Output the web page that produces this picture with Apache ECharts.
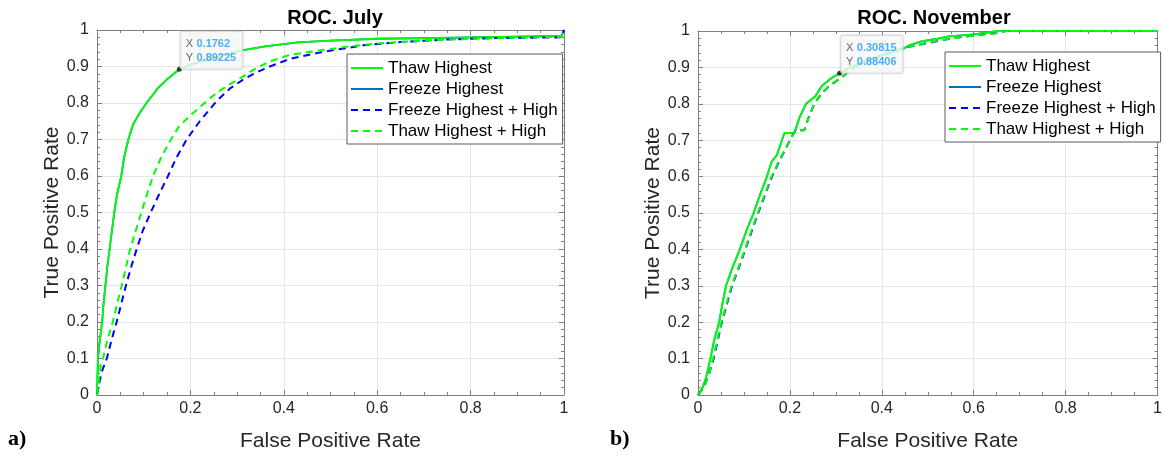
<!DOCTYPE html>
<html>
<head>
<meta charset="utf-8">
<script src="https://cdn.jsdelivr.net/npm/echarts@6/dist/echarts.min.js"></script>
<style>
  html, body { margin: 0; padding: 0; background: #fff; }
  #chart { width: 1165px; height: 457px; }
</style>
</head>
<body>
<div id="chart"></div>
<script>
// ROC curves: [false positive rate, true positive rate]
const julyThawHighest = [
  [0, 0], [0.002, 0.1], [0.006, 0.15], [0.011, 0.2], [0.014, 0.25], [0.018, 0.3],
  [0.022, 0.35], [0.027, 0.4], [0.032, 0.45], [0.037, 0.5], [0.043, 0.55], [0.052, 0.6],
  [0.058, 0.65], [0.067, 0.7], [0.077, 0.74], [0.09, 0.77], [0.106, 0.8], [0.118, 0.82],
  [0.13, 0.84], [0.15, 0.865], [0.1762, 0.89225], [0.2, 0.905], [0.24, 0.92], [0.31, 0.944],
  [0.36, 0.955], [0.43, 0.966], [0.5, 0.971], [0.6, 0.976], [0.7, 0.978], [0.8, 0.98],
  [0.9, 0.982], [0.995, 0.984], [1, 1]
];
const julyFreezeHighest = [
  [0, 0], [0.002, 0.1], [0.006, 0.15], [0.011, 0.2], [0.014, 0.25], [0.018, 0.3],
  [0.022, 0.35], [0.027, 0.4], [0.032, 0.45], [0.037, 0.5], [0.043, 0.55], [0.052, 0.6],
  [0.058, 0.65], [0.067, 0.7], [0.077, 0.74], [0.09, 0.77], [0.106, 0.8], [0.118, 0.82],
  [0.13, 0.84], [0.15, 0.865], [0.1762, 0.89225], [0.2, 0.905], [0.24, 0.92], [0.31, 0.944],
  [0.36, 0.955], [0.43, 0.966], [0.5, 0.971], [0.6, 0.976], [0.7, 0.978], [0.8, 0.98],
  [0.9, 0.982], [0.995, 0.984], [1, 1]
];
const julyFreezeHighestHigh = [
  [0, 0], [0.006, 0.04], [0.012, 0.07], [0.021, 0.1], [0.031, 0.15], [0.042, 0.2],
  [0.052, 0.25], [0.062, 0.3], [0.073, 0.35], [0.085, 0.4], [0.098, 0.45], [0.115, 0.5],
  [0.133, 0.55], [0.152, 0.6], [0.17, 0.65], [0.192, 0.7], [0.22, 0.75], [0.256, 0.805],
  [0.285, 0.84], [0.313, 0.864], [0.34, 0.883], [0.37, 0.9], [0.413, 0.921], [0.484, 0.94],
  [0.57, 0.958], [0.65, 0.967], [0.75, 0.974], [0.85, 0.978], [0.995, 0.98], [1, 1]
];
const julyThawHighestHigh = [
  [0, 0], [0.004, 0.04], [0.008, 0.08], [0.013, 0.1], [0.022, 0.15], [0.034, 0.2],
  [0.043, 0.25], [0.053, 0.3], [0.062, 0.35], [0.071, 0.4], [0.083, 0.45], [0.095, 0.5],
  [0.107, 0.55], [0.12, 0.6], [0.137, 0.65], [0.156, 0.695], [0.175, 0.735], [0.199, 0.765],
  [0.226, 0.795], [0.256, 0.828], [0.285, 0.852], [0.313, 0.873], [0.34, 0.895], [0.37, 0.914],
  [0.413, 0.932], [0.484, 0.945], [0.541, 0.955], [0.6, 0.963], [0.7, 0.971], [0.8, 0.976],
  [0.9, 0.979], [0.995, 0.981], [1, 1]
];

const novThawHighest = [
  [0, 0], [0.01, 0.02], [0.018, 0.05], [0.027, 0.1], [0.035, 0.15], [0.046, 0.2],
  [0.053, 0.25], [0.061, 0.3], [0.075, 0.35], [0.091, 0.4], [0.105, 0.45], [0.121, 0.5],
  [0.135, 0.55], [0.15, 0.6], [0.16, 0.64], [0.172, 0.66], [0.188, 0.72], [0.21, 0.72],
  [0.22, 0.76], [0.235, 0.8], [0.255, 0.82], [0.27, 0.85], [0.29, 0.87], [0.30815, 0.88406],
  [0.33, 0.9], [0.37, 0.92], [0.41, 0.937], [0.441, 0.948], [0.463, 0.962], [0.484, 0.971],
  [0.517, 0.978], [0.545, 0.985], [0.6, 0.991], [0.654, 1], [1, 1]
];
const novFreezeHighest = [
  [0, 0], [0.01, 0.02], [0.018, 0.05], [0.027, 0.1], [0.035, 0.15], [0.046, 0.2],
  [0.053, 0.25], [0.061, 0.3], [0.075, 0.35], [0.091, 0.4], [0.105, 0.45], [0.121, 0.5],
  [0.135, 0.55], [0.15, 0.6], [0.16, 0.64], [0.172, 0.66], [0.188, 0.72], [0.21, 0.72],
  [0.22, 0.76], [0.235, 0.8], [0.255, 0.82], [0.27, 0.85], [0.29, 0.87], [0.30815, 0.88406],
  [0.33, 0.9], [0.37, 0.92], [0.41, 0.937], [0.441, 0.948], [0.463, 0.962], [0.484, 0.971],
  [0.517, 0.978], [0.545, 0.985], [0.6, 0.991], [0.654, 1], [1, 1]
];
const novFreezeHighestHigh = [
  [0, 0], [0.012, 0.02], [0.022, 0.05], [0.034, 0.1], [0.043, 0.15], [0.052, 0.2],
  [0.063, 0.25], [0.074, 0.3], [0.089, 0.35], [0.103, 0.4], [0.117, 0.45], [0.131, 0.5],
  [0.146, 0.55], [0.161, 0.6], [0.176, 0.64], [0.2, 0.7], [0.212, 0.727], [0.231, 0.727],
  [0.24, 0.76], [0.253, 0.8], [0.27, 0.83], [0.287, 0.85], [0.315, 0.875], [0.33, 0.89],
  [0.36, 0.914], [0.4, 0.934], [0.452, 0.955], [0.5, 0.967], [0.545, 0.978], [0.6, 0.988],
  [0.653, 0.995], [0.67, 1], [1, 1]
];
const novThawHighestHigh = [
  [0, 0], [0.012, 0.02], [0.022, 0.05], [0.033, 0.1], [0.042, 0.15], [0.051, 0.2],
  [0.062, 0.25], [0.073, 0.3], [0.088, 0.35], [0.102, 0.4], [0.116, 0.45], [0.13, 0.5],
  [0.145, 0.55], [0.16, 0.6], [0.175, 0.64], [0.2, 0.7], [0.212, 0.727], [0.231, 0.727],
  [0.24, 0.76], [0.253, 0.8], [0.27, 0.83], [0.286, 0.85], [0.315, 0.875], [0.329, 0.89],
  [0.36, 0.915], [0.4, 0.935], [0.452, 0.955], [0.5, 0.968], [0.545, 0.978], [0.6, 0.988],
  [0.653, 0.995], [0.67, 1], [1, 1]
];

// Data tips pinned on the Thaw Highest curves
const julyTip = [0.1762, 0.89225];
const novTip = [0.30815, 0.88406];

const panelTitles = ['ROC. July', 'ROC. November'];
const panelTags = ['a)', 'b)'];
const legendNames = ['Thaw Highest', 'Freeze Highest', 'Freeze Highest + High', 'Thaw Highest + High'];
const xTitle = 'False Positive Rate';
const yTitle = 'True Positive Rate';

const FONT = '"Liberation Sans", Arial, Helvetica, sans-serif';
const AXIS_GRAY = '#808080';
const TEXT = '#262626';
const GREEN = '#00ff00';
const BLUE = '#0000ff';
const MATLAB_BLUE = '#0072bd';
const DASH = [7, 5];

const chart = echarts.init(document.getElementById('chart'), null, { renderer: 'canvas' });

const grids = [
  { left: 97, top: 30, width: 467, height: 369 },
  { left: 698, top: 31, width: 462, height: 368 }
];

function xAxes(g) {
  const base = {
    type: 'value', gridIndex: g, min: 0, max: 1, interval: 0.2,
    axisLine: { show: true, onZero: false, lineStyle: { color: AXIS_GRAY, width: 1 } },
    axisTick: { show: true, inside: true, length: 5, lineStyle: { color: AXIS_GRAY } },
    minorTick: { show: true, splitNumber: 4, length: 3, lineStyle: { color: AXIS_GRAY } }
  };
  return [
    Object.assign({}, base, {
      position: 'bottom',
      name: xTitle, nameLocation: 'middle', nameGap: 36,
      nameTextStyle: { fontFamily: FONT, fontSize: 21, color: TEXT },
      axisLabel: { fontFamily: FONT, fontSize: 16, color: TEXT, margin: 6 },
      splitLine: { show: true, lineStyle: { color: '#e6e6e6', width: 1 } }
    }),
    Object.assign({}, base, {
      position: 'top',
      axisLabel: { show: false },
      splitLine: { show: false }
    })
  ];
}

function yAxes(g) {
  const base = {
    type: 'value', gridIndex: g, min: 0, max: 1, interval: 0.1,
    axisLine: { show: true, onZero: false, lineStyle: { color: AXIS_GRAY, width: 1 } },
    axisTick: { show: true, inside: true, length: 5, lineStyle: { color: AXIS_GRAY } },
    minorTick: { show: true, splitNumber: 5, length: 3, lineStyle: { color: AXIS_GRAY } }
  };
  return [
    Object.assign({}, base, {
      position: 'left',
      name: yTitle, nameLocation: 'middle', nameGap: 30,
      nameTextStyle: { fontFamily: FONT, fontSize: 21, color: TEXT },
      axisLabel: { fontFamily: FONT, fontSize: 16, color: TEXT, margin: 8 },
      splitLine: { show: true, lineStyle: { color: '#e6e6e6', width: 1 } }
    }),
    Object.assign({}, base, {
      position: 'right',
      axisLabel: { show: false },
      splitLine: { show: false }
    })
  ];
}

function curve(name, data, axisIdx, color, dashed, z) {
  return {
    type: 'line', name: name, data: data,
    xAxisIndex: axisIdx, yAxisIndex: axisIdx,
    symbol: 'none', z: z, silent: true,
    lineStyle: {
      color: color, width: dashed ? 2 : 1.8,
      type: dashed ? DASH : 'solid'
    },
    itemStyle: { color: color }
  };
}

function tip(point, axisIdx, padBottom) {
  return {
    type: 'scatter', name: 'tip' + axisIdx, data: [point],
    xAxisIndex: axisIdx, yAxisIndex: axisIdx,
    symbol: 'circle', symbolSize: 5, z: 10, silent: true,
    itemStyle: { color: '#1a1a1a' },
    label: {
      show: true,
      position: [4, -35],
      formatter: function (p) {
        return '{k|X} {v|' + p.value[0] + '}\n{k|Y} {v|' + p.value[1] + '}';
      },
      backgroundColor: '#fcfdff',
      borderColor: '#d6d9de', borderWidth: 1, borderRadius: 2,
      shadowColor: 'rgba(0,0,0,0.12)', shadowBlur: 3,
      padding: [5, 6, padBottom, 5],
      lineHeight: 14,
      rich: {
        k: { fontFamily: FONT, fontSize: 11, color: '#404040', lineHeight: 14 },
        v: { fontFamily: FONT, fontSize: 11, color: '#1e9bf5', fontWeight: 'bold', lineHeight: 14 }
      }
    }
  };
}

function legend(left, top) {
  return {
    data: legendNames, orient: 'vertical', left: left, top: top,
    itemWidth: 32, itemHeight: 14, itemGap: 3,
    padding: [5, 5, 4, 3],
    backgroundColor: '#ffffff', borderColor: '#5a5a5a', borderWidth: 1,
    selectedMode: false,
    itemStyle: { opacity: 0 },
    lineStyle: { width: 2 },
    textStyle: { fontFamily: FONT, fontSize: 17, color: '#000', lineHeight: 18 }
  };
}

const option = {
  animation: false,
  backgroundColor: '#ffffff',
  title: [
    { text: panelTitles[0], left: 330, top: 3, textAlign: 'center',
      textStyle: { fontFamily: FONT, fontSize: 20, fontWeight: 'bold', color: '#000' } },
    { text: panelTitles[1], left: 929, top: 3, textAlign: 'center',
      textStyle: { fontFamily: FONT, fontSize: 20, fontWeight: 'bold', color: '#000' } }
  ],
  grid: grids,
  xAxis: xAxes(0).concat(xAxes(1)),
  yAxis: yAxes(0).concat(yAxes(1)),
  legend: [legend(347, 54), legend(945, 52)],
  series: [
    curve(legendNames[1], julyFreezeHighest, 0, MATLAB_BLUE, false, 2),
    curve(legendNames[0], julyThawHighest, 0, GREEN, false, 3),
    curve(legendNames[2], julyFreezeHighestHigh, 0, BLUE, true, 4),
    curve(legendNames[3], julyThawHighestHigh, 0, GREEN, true, 5),
    tip(julyTip, 0, 4),
    curve(legendNames[1], novFreezeHighest, 2, MATLAB_BLUE, false, 2),
    curve(legendNames[0], novThawHighest, 2, GREEN, false, 3),
    curve(legendNames[2], novFreezeHighestHigh, 2, BLUE, true, 4),
    curve(legendNames[3], novThawHighestHigh, 2, GREEN, true, 5),
    tip(novTip, 2, 4)
  ],
  graphic: [
    { type: 'text', left: 8, top: 428,
      style: { text: panelTags[0], fontFamily: '"Liberation Serif", "Times New Roman", serif', fontSize: 22, fontWeight: 'bold', fill: '#000' } },
    { type: 'text', left: 610, top: 428,
      style: { text: panelTags[1], fontFamily: '"Liberation Serif", "Times New Roman", serif', fontSize: 22, fontWeight: 'bold', fill: '#000' } }
  ]
};

chart.setOption(option);
</script>
</body>
</html>
